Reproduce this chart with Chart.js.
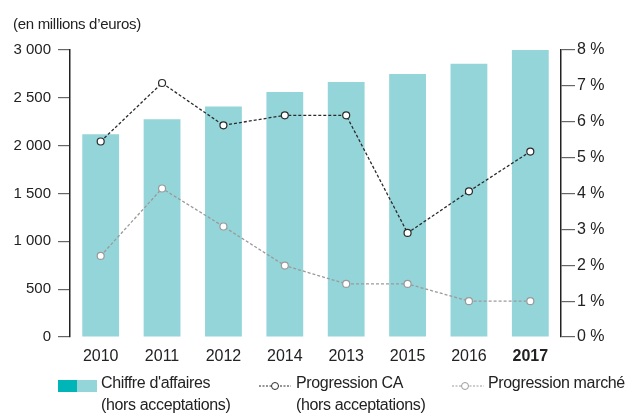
<!DOCTYPE html>
<html lang="fr">
<head>
    <meta charset="UTF-8">
    <title>Chiffre d'affaires</title>
    <style>
        body {
            margin: 0;
            font-family: "Liberation Sans", Arial, sans-serif;
            color: #222;
            background: white;
        }
        #wrap {
            position: relative;
            width: 627px;
            height: 414px;
        }
        #unit {
            position: absolute;
            left: 13px;
            top: 15px;
            font-size: 15px;
            letter-spacing: -0.3px;
        }
        .leg {
            position: absolute;
            font-size: 16px;
            line-height: 22px;
            top: 372px;
            letter-spacing: -0.35px;
            white-space: nowrap;
        }
        .sym {
            position: absolute;
        }
    </style>
</head>
<body>
    <div id="wrap">
        <canvas id="chart" width="627" height="414"></canvas>
        <div id="unit">(en millions d’euros)</div>

        <svg class="sym" style="left:58px;top:380px" width="40" height="12">
            <rect x="0" y="0" width="19" height="12" fill="#00b5b8"></rect>
            <rect x="19" y="0" width="20" height="12" fill="#94d5da"></rect>
        </svg>
        <div class="leg" style="left:101px">Chiffre d'affaires<br>(hors acceptations)</div>

        <svg class="sym" style="left:258px;top:379px" width="34" height="14">
            <line x1="1" y1="7" x2="33" y2="7" stroke="#2b2b2b" stroke-width="1" stroke-dasharray="2,1.5"></line>
            <circle cx="17" cy="7" r="3.5" fill="white" stroke="#2b2b2b" stroke-width="1"></circle>
        </svg>
        <div class="leg" style="left:296px">Progression CA<br>(hors acceptations)</div>

        <svg class="sym" style="left:451px;top:379px" width="34" height="14">
            <line x1="1" y1="7" x2="33" y2="7" stroke="#9a9a9a" stroke-width="1" stroke-dasharray="2,1.5"></line>
            <circle cx="14" cy="7" r="3.5" fill="white" stroke="#9a9a9a" stroke-width="1"></circle>
        </svg>
        <div class="leg" style="left:488px">Progression marché</div>
    </div>

    <script src="https://cdn.jsdelivr.net/npm/chart.js"></script>
    <script>
        // données
        const annees = ['2010', '2011', '2012', '2014', '2013', '2015', '2016', '2017'];
        const chiffreAffaires = [2120, 2275, 2410, 2560, 2665, 2750, 2855, 3000];
        const progressionCA = [5.45, 7.08, 5.9, 6.18, 6.18, 2.9, 4.06, 5.17];
        const progressionMarche = [2.26, 4.14, 3.08, 1.99, 1.48, 1.48, 1.0, 1.0];

        const ticksCA = [0, 500, 1000, 1500, 2000, 2500, 3000];
        const ticksPct = [0, 1, 2, 3, 4, 5, 6, 7, 8];

        const fontFamily = '"Liberation Sans", Arial, sans-serif';

        function milliers(v) {
            return String(v).replace(/\B(?=(\d{3})+(?!\d))/g, ' ');
        }

        new Chart(document.getElementById('chart').getContext('2d'), {
            data: {
                labels: annees,
                datasets: [
                    {
                        type: 'line',
                        label: 'Progression CA',
                        data: progressionCA,
                        yAxisID: 'y1',
                        borderColor: '#2b2b2b',
                        borderWidth: 1.3,
                        borderDash: [3, 2],
                        pointRadius: 3.5,
                        pointBackgroundColor: 'white',
                        pointBorderColor: '#2b2b2b',
                        pointBorderWidth: 1.2,
                        tension: 0,
                        order: 1
                    },
                    {
                        type: 'line',
                        label: 'Progression marché',
                        data: progressionMarche,
                        yAxisID: 'y1',
                        borderColor: '#9a9a9a',
                        borderWidth: 1.3,
                        borderDash: [3, 2],
                        pointRadius: 3.5,
                        pointBackgroundColor: 'white',
                        pointBorderColor: '#9a9a9a',
                        pointBorderWidth: 1.2,
                        tension: 0,
                        order: 2
                    },
                    {
                        type: 'bar',
                        label: "Chiffre d'affaires",
                        data: chiffreAffaires,
                        yAxisID: 'y',
                        backgroundColor: '#94d5da',
                        barPercentage: 0.6,
                        categoryPercentage: 1,
                        order: 3
                    }
                ]
            },
            options: {
                responsive: false,
                animation: false,
                layout: { padding: { top: 50, left: 0, right: 0, bottom: 0 } },
                plugins: {
                    legend: { display: false },
                    tooltip: { enabled: false }
                },
                scales: {
                    x: {
                        grid: { display: false },
                        border: { display: false },
                        ticks: {
                            padding: 2,
                            color: '#222',
                            font: (ctx) => ({
                                family: fontFamily,
                                size: 16,
                                weight: ctx.index === annees.length - 1 ? 'bold' : 'normal'
                            })
                        },
                        afterFit: (scale) => { scale.height = 77; }
                    },
                    y: {
                        position: 'left',
                        min: 0,
                        max: 3000,
                        afterBuildTicks: (scale) => { scale.ticks = ticksCA.map(v => ({ value: v })); },
                        grid: {
                            drawOnChartArea: false,
                            drawTicks: true,
                            tickLength: 12,
                            color: '#666',
                            lineWidth: 1.2
                        },
                        border: { display: true, color: '#222', width: 1.5 },
                        ticks: {
                            padding: 7,
                            color: '#222',
                            font: { family: fontFamily, size: 15 },
                            callback: (v) => milliers(v)
                        },
                        afterFit: (scale) => { scale.width = 70; }
                    },
                    y1: {
                        position: 'right',
                        min: 0,
                        max: 8,
                        afterBuildTicks: (scale) => { scale.ticks = ticksPct.map(v => ({ value: v })); },
                        grid: {
                            drawOnChartArea: false,
                            drawTicks: true,
                            tickLength: 14,
                            color: '#666',
                            lineWidth: 1.2
                        },
                        border: { display: true, color: '#222', width: 1.5 },
                        ticks: {
                            padding: 2,
                            color: '#222',
                            font: { family: fontFamily, size: 16 },
                            callback: (v) => v + ' %'
                        },
                        afterFit: (scale) => { scale.width = 66; }
                    }
                }
            }
        });
    </script>
</body>
</html>
